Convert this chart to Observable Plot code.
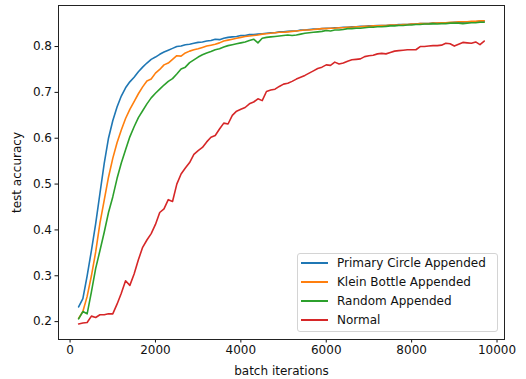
<!DOCTYPE html>
<html>
<head>
<meta charset="utf-8">
<script src="https://cdn.jsdelivr.net/npm/d3@7"></script>
<script src="https://cdn.jsdelivr.net/npm/@observablehq/plot@0.6"></script>
<style>
  html, body { margin: 0; padding: 0; background: #fff; }
  #wrap { position: relative; width: 526px; height: 379px; font-family: "DejaVu Sans", sans-serif; }
  #legend { position: absolute; left: 297px; top: 253px; width: 199px; height: 77px;
    border: 1px solid #d4d4d4; border-radius: 3px; background: rgba(255,255,255,0.8);
    font-size: 12px; color: #111; }
  .row { position: absolute; left: 0; height: 14px; display: flex; align-items: center; white-space: nowrap; }
  .sw { width: 27px; height: 2px; margin-left: 3px; margin-right: 9px; }
</style>
</head>
<body>
<div id="wrap"><div id="chart"></div><div id="legend"></div></div>
<script>
const iterations = d3.range(200, 9701, 100);
const seriesNames = ["Primary Circle Appended", "Klein Bottle Appended", "Random Appended", "Normal"];
const colors = ["#1f77b4", "#ff7f0e", "#2ca02c", "#d62728"];
const xTicks = [0, 2000, 4000, 6000, 8000, 10000];
const yTicks = [0.2, 0.3, 0.4, 0.5, 0.6, 0.7, 0.8];

const primaryCircle = [
0.232,0.250,0.300,0.355,0.414,0.480,0.545,0.600,0.638,0.668,
0.692,0.710,0.723,0.733,0.745,0.755,0.764,0.772,0.777,0.783,
0.788,0.792,0.796,0.800,0.801,0.804,0.805,0.807,0.809,0.810,
0.812,0.813,0.816,0.815,0.818,0.820,0.821,0.822,0.824,0.824,
0.826,0.826,0.827,0.828,0.829,0.830,0.830,0.832,0.832,0.833,
0.834,0.834,0.836,0.836,0.837,0.838,0.838,0.839,0.840,0.840,
0.841,0.841,0.842,0.842,0.843,0.843,0.844,0.844,0.845,0.845,
0.846,0.846,0.846,0.847,0.847,0.848,0.848,0.848,0.849,0.849,
0.850,0.850,0.850,0.851,0.851,0.852,0.852,0.852,0.853,0.853,
0.853,0.854,0.854,0.854,0.855,0.855];

const kleinBottle = [
0.207,0.222,0.255,0.300,0.352,0.415,0.465,0.515,0.556,0.590,
0.618,0.643,0.663,0.680,0.697,0.712,0.725,0.729,0.742,0.750,
0.760,0.764,0.772,0.780,0.779,0.786,0.790,0.793,0.795,0.798,
0.801,0.803,0.805,0.808,0.812,0.814,0.816,0.818,0.820,0.822,
0.823,0.824,0.825,0.827,0.828,0.829,0.830,0.831,0.831,0.832,
0.833,0.834,0.835,0.836,0.836,0.837,0.838,0.839,0.839,0.840,
0.840,0.841,0.841,0.842,0.842,0.843,0.843,0.844,0.844,0.845,
0.845,0.846,0.846,0.847,0.847,0.847,0.848,0.848,0.849,0.849,
0.850,0.850,0.850,0.851,0.851,0.852,0.852,0.853,0.853,0.854,
0.854,0.854,0.855,0.855,0.856,0.856];

const randomAppended = [
0.206,0.222,0.217,0.265,0.316,0.355,0.395,0.438,0.472,0.512,
0.546,0.575,0.603,0.625,0.645,0.660,0.675,0.688,0.698,0.707,
0.716,0.724,0.730,0.740,0.751,0.755,0.765,0.771,0.777,0.782,
0.786,0.789,0.793,0.795,0.799,0.802,0.804,0.806,0.808,0.810,
0.813,0.816,0.808,0.818,0.820,0.821,0.822,0.823,0.824,0.825,
0.824,0.825,0.827,0.829,0.830,0.831,0.832,0.833,0.835,0.834,
0.836,0.836,0.837,0.839,0.839,0.840,0.840,0.841,0.842,0.842,
0.843,0.843,0.844,0.845,0.845,0.846,0.846,0.847,0.847,0.848,
0.848,0.849,0.849,0.850,0.849,0.850,0.850,0.851,0.851,0.851,
0.850,0.851,0.852,0.852,0.853,0.853];

const normal = [
0.195,0.197,0.198,0.212,0.209,0.215,0.215,0.217,0.217,0.238,
0.262,0.289,0.279,0.304,0.335,0.362,0.378,0.392,0.412,0.438,
0.446,0.466,0.462,0.500,0.522,0.535,0.547,0.565,0.573,0.580,
0.592,0.602,0.606,0.620,0.633,0.631,0.650,0.659,0.663,0.667,
0.675,0.679,0.686,0.682,0.702,0.705,0.707,0.713,0.718,0.720,
0.724,0.729,0.733,0.737,0.742,0.747,0.752,0.755,0.760,0.759,
0.766,0.762,0.764,0.768,0.771,0.772,0.773,0.778,0.780,0.781,
0.784,0.785,0.784,0.787,0.790,0.791,0.792,0.793,0.793,0.793,
0.800,0.800,0.801,0.802,0.802,0.803,0.807,0.806,0.801,0.805,
0.809,0.808,0.807,0.810,0.804,0.812];

const allSeries = [primaryCircle, kleinBottle, randomAppended, normal];
const rows = [];
allSeries.forEach((vals, s) => vals.forEach((v, i) => rows.push({it: iterations[i], acc: v, series: seriesNames[s]})));

const chart = Plot.plot({
  width: 526, height: 379,
  marginLeft: 58, marginRight: 22, marginTop: 5, marginBottom: 40,
  style: { fontFamily: "DejaVu Sans, sans-serif", fontSize: "12px", color: "#111", background: "#fff" },
  x: { domain: [-271, 10175] },
  y: { domain: [0.161, 0.8895] },
  color: { domain: seriesNames, range: colors },
  marks: [
    Plot.line(rows, { x: "it", y: "acc", z: "series", stroke: "series", strokeWidth: 1.6 }),
    Plot.axisX({ ticks: xTicks, tickSize: 3.5, tickPadding: 2.5, tickFormat: d => String(d),
      label: "batch iterations", labelAnchor: "center", labelArrow: "none", labelOffset: 35, fontSize: 12 }),
    Plot.axisY({ ticks: yTicks, tickSize: 3.5, tickPadding: 3, tickFormat: d => d.toFixed(1),
      label: "test accuracy", labelAnchor: "center", labelArrow: "none", labelOffset: 46, fontSize: 12 }),
    Plot.frame({ stroke: "#222", strokeWidth: 1 })
  ]
});
document.getElementById("chart").appendChild(chart);

const legend = document.getElementById("legend");
seriesNames.forEach((name, i) => {
  const r = document.createElement("div");
  r.className = "row";
  r.style.top = (2 + i * 19) + "px";
  const sw = document.createElement("div");
  sw.className = "sw";
  sw.style.background = colors[i];
  const t = document.createElement("span");
  t.textContent = name;
  r.appendChild(sw); r.appendChild(t);
  legend.appendChild(r);
});
</script>
</body>
</html>
